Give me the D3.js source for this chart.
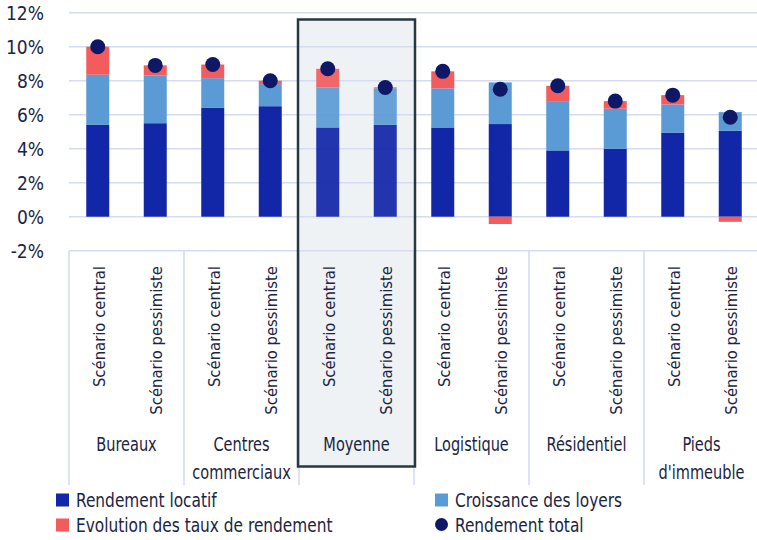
<!DOCTYPE html>
<html>
<head>
<meta charset="utf-8">
<script src="https://cdn.jsdelivr.net/npm/d3@7"></script>
<style>
  html, body { margin: 0; padding: 0; background: #fff; }
  svg { display: block; font-family: "DejaVu Sans Condensed", "DejaVu Sans", sans-serif; font-stretch: condensed; }
</style>
</head>
<body>
<svg id="chart" width="757" height="540"></svg>
<script>
// Scenario under each bar, sector group names and stacked components (%)
const scenarios = [
  "Scénario central", "Scénario pessimiste",
  "Scénario central", "Scénario pessimiste",
  "Scénario central", "Scénario pessimiste",
  "Scénario central", "Scénario pessimiste",
  "Scénario central", "Scénario pessimiste",
  "Scénario central", "Scénario pessimiste"
];
const groups = [
  ["Bureaux"], ["Centres", "commerciaux"], ["Moyenne"],
  ["Logistique"], ["Résidentiel"], ["Pieds", "d'immeuble"]
];
const rendementLocatif  = [5.4, 5.5, 6.4, 6.5, 5.25, 5.4, 5.25, 5.45, 3.9, 4.0, 4.95, 5.05];
const croissanceLoyers  = [2.95, 2.8, 1.75, 1.3, 2.35, 2.15, 2.3, 2.45, 2.9, 2.35, 1.65, 1.1];
const evolutionTaux     = [1.65, 0.6, 0.8, 0.2, 1.1, 0.06, 1.0, -0.43, 0.9, 0.45, 0.55, -0.3];
const rendementTotal    = [10.0, 8.9, 8.95, 8.0, 8.7, 7.6, 8.55, 7.5, 7.7, 6.8, 7.15, 5.85];
const yTicks = [-2, 0, 2, 4, 6, 8, 10, 12];
const highlightGroup = 2; // "Moyenne"

const keys = ["locatif", "croissance", "evolution"];
const colors = { locatif: "#1226a8", croissance: "#5b9bd5", evolution: "#f25c5c" };
const dotColor = "#0f1866";
const textColor = "#1c2444";
const gridColor = "#d5dcf1";

const rows = scenarios.map((s, i) => ({
  idx: i,
  locatif: rendementLocatif[i],
  croissance: croissanceLoyers[i],
  evolution: evolutionTaux[i],
  total: rendementTotal[i]
}));

const svg = d3.select("#chart");
const plotLeft = 69, plotRight = 759, plotTop = 12.7, plotBottom = 250.7;

const x = d3.scaleBand()
  .domain(rows.map(d => d.idx))
  .range([plotLeft, plotRight])
  .paddingInner(0.6)
  .paddingOuter(0.3);

const y = d3.scaleLinear().domain([-2, 12]).range([plotBottom, plotTop]);

const perGroup = 2;
const groupWidth = x.step() * perGroup;
const groupX = g => plotLeft + g * groupWidth;

// Narrow the type horizontally around each label's anchor point
function narrow(selection, sx) {
  selection.each(function () {
    const t = d3.select(this);
    const ax = +t.attr("x") || 0, ay = +t.attr("y") || 0;
    t.attr("x", 0).attr("y", 0)
      .attr("transform", `translate(${ax},${ay}) scale(${sx},1)`);
    t.selectAll("tspan").attr("x", 0);
  });
}

// Highlighted average group background
const boxTop = 19.5, boxBottom = 466.5;
svg.append("rect")
  .attr("x", groupX(highlightGroup) - 1)
  .attr("y", boxTop)
  .attr("width", groupWidth + 2)
  .attr("height", boxBottom - boxTop)
  .attr("fill", "#eef2f5");

// Horizontal gridlines
svg.append("g").selectAll("line")
  .data(yTicks)
  .join("line")
  .attr("x1", plotLeft).attr("x2", 757)
  .attr("y1", d => y(d)).attr("y2", d => y(d))
  .attr("stroke", gridColor)
  .attr("stroke-width", 1.6);

// Y axis labels
const yAxis = d3.axisLeft(y).tickValues(yTicks).tickFormat(d => d + "%").tickSize(0).tickPadding(0);
const yg = svg.append("g").attr("transform", "translate(44,0)").call(yAxis);
yg.attr("font-family", null).attr("font-size", null);
yg.select(".domain").remove();
yg.selectAll("text")
  .attr("fill", textColor)
  .attr("font-size", 19)
  .attr("dy", "0.36em");

// Group separators below the axis
const sepBottom = 485;
svg.append("g").selectAll("line")
  .data(d3.range(groups.length + 1))
  .join("line")
  .attr("x1", g => groupX(g)).attr("x2", g => groupX(g))
  .attr("y1", plotBottom).attr("y2", sepBottom)
  .attr("stroke", gridColor)
  .attr("stroke-width", 1.6);

// Stacked bars (diverging around zero)
const stack = d3.stack().keys(keys).offset(d3.stackOffsetDiverging);
const series = stack(rows);

svg.append("g").selectAll("g")
  .data(series)
  .join("g")
  .attr("fill", s => colors[s.key])
  .selectAll("rect")
  .data(s => s)
  .join("rect")
  .attr("x", d => x(d.data.idx))
  .attr("width", x.bandwidth())
  .attr("y", d => y(Math.max(d[0], d[1])))
  .attr("height", d => Math.abs(y(d[0]) - y(d[1])))
  .attr("opacity", d => Math.floor(d.data.idx / perGroup) === highlightGroup ? 0.93 : 1);

// Total return dots
svg.append("g").selectAll("circle")
  .data(rows)
  .join("circle")
  .attr("cx", d => x(d.idx) + x.bandwidth() / 2)
  .attr("cy", d => y(d.total))
  .attr("r", 7.5)
  .attr("fill", dotColor);

// Highlight box outline
svg.append("rect")
  .attr("x", groupX(highlightGroup) - 1)
  .attr("y", boxTop)
  .attr("width", groupWidth + 2)
  .attr("height", boxBottom - boxTop)
  .attr("fill", "none")
  .attr("stroke", "#283841")
  .attr("stroke-width", 2.5);

// Rotated scenario labels
svg.append("g").selectAll("text")
  .data(rows)
  .join("text")
  .attr("transform", d => `translate(${x(d.idx) + x.bandwidth() / 2 + 1},266) rotate(-90)`)
  .attr("text-anchor", "end")
  .attr("dy", "0.36em")
  .attr("font-size", 16.5)
  .attr("fill", textColor)
  .text(d => scenarios[d.idx]);

// Group names
const gl = svg.append("g").selectAll("text")
  .data(groups)
  .join("text")
  .attr("x", (g, i) => groupX(i) + groupWidth / 2)
  .attr("y", 451)
  .attr("text-anchor", "middle")
  .attr("font-size", 19)
  .attr("fill", textColor);
gl.selectAll("tspan")
  .data(g => g)
  .join("tspan")
  .attr("dy", (t, i) => i === 0 ? 0 : 28)
  .text(t => t);
narrow(gl, 0.85);

// Legend
const legend = [
  { label: "Rendement locatif", type: "rect", color: colors.locatif, x: 56, y: 500 },
  { label: "Evolution des taux de rendement", type: "rect", color: colors.evolution, x: 56, y: 525 },
  { label: "Croissance des loyers", type: "rect", color: colors.croissance, x: 435, y: 500 },
  { label: "Rendement total", type: "dot", color: dotColor, x: 435, y: 525 }
];
const lg = svg.append("g").selectAll("g")
  .data(legend)
  .join("g")
  .attr("transform", d => `translate(${d.x},${d.y})`);
lg.filter(d => d.type === "rect").append("rect")
  .attr("x", 0).attr("y", -6.5).attr("width", 13).attr("height", 13)
  .attr("fill", d => d.color);
lg.filter(d => d.type === "dot").append("circle")
  .attr("cx", 6.5).attr("cy", -0.5).attr("r", 6.5)
  .attr("fill", d => d.color);
const lt = lg.append("text")
  .attr("x", 20)
  .attr("y", 0)
  .attr("dy", "0.36em")
  .attr("font-size", 19)
  .attr("fill", textColor)
  .text(d => d.label);
narrow(lt, 0.9);
</script>
</body>
</html>
